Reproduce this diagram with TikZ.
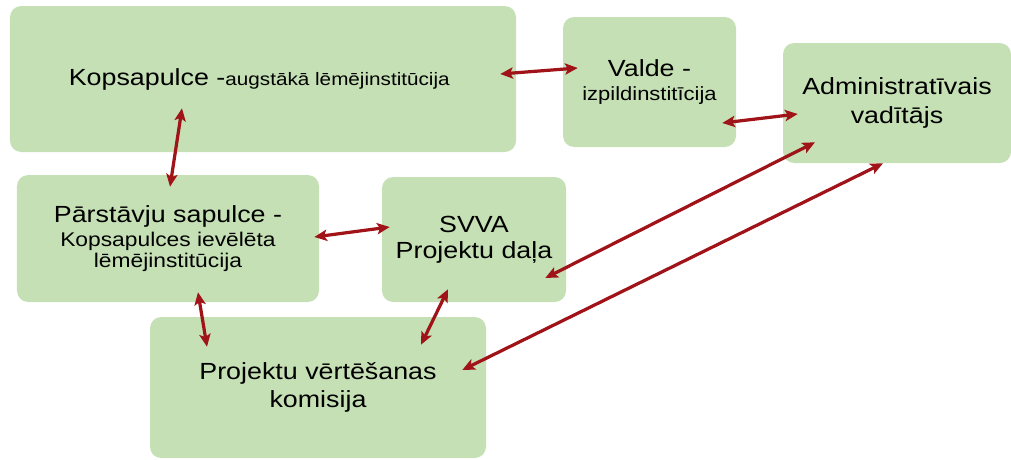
\documentclass[tikz,border=0pt]{standalone}
\usepackage{fontspec}
\setmainfont{Liberation Sans}[FakeStretch=1.15]
\usepackage{tikz}
\usetikzlibrary{arrows.meta, calc}

\definecolor{boxgreen}{RGB}{197,224,180}
\definecolor{linkred}{RGB}{160,20,25}

\newcommand{\bigtxt}{\fontsize{16.6}{20}\selectfont}

\begin{document}
\begin{tikzpicture}[
    box/.style={fill=boxgreen, rounded corners=8pt, align=center, inner sep=0pt, text=black, font=\bigtxt},
    link/.style={{Stealth[length=9pt,width=8pt,inset=2pt]}-{Stealth[length=9pt,width=8pt,inset=2pt]}, line width=2.3pt, draw=linkred}
]
\useasboundingbox (0,0) rectangle (25.275,11.475);

\node[box, minimum width=12.65cm, minimum height=3.65cm] (kop) at (6.575,9.5) {
    Kopsapulce -{\fontsize{12.8}{15}\selectfont augstākā lēmējinstitūcija}
};
\node[box, minimum width=4.325cm, minimum height=3.25cm] (valde) at (16.2375,9.425) {
    Valde -\\[-3pt]
    {\fontsize{13.6}{15}\selectfont izpildinstitīcija}
};
\node[box, minimum width=5.7cm, minimum height=3.0cm] (admin) at (22.425,8.9) {
    Administratīvais\\
    vadītājs
};
\node[box, minimum width=7.55cm, minimum height=3.175cm] (parst) at (4.2,5.5125) {
    Pārstāvju sapulce -\\[-3pt]
    {\fontsize{14.1}{17}\selectfont Kopsapulces ievēlēta}\\[-5pt]
    {\fontsize{14.1}{17}\selectfont lēmējinstitūcija}
};
\node[box, minimum width=4.6cm, minimum height=3.125cm] (svva) at (11.85,5.4875) {
    SVVA\\[-1.5pt]
    Projektu daļa
};
\node[box, minimum width=8.4cm, minimum height=3.525cm] (proj) at (7.95,1.7875) {
    Projektu vērtēšanas\\
    komisija
};

\draw[link] ($(kop.east)+(-0.4,0.125)$) -- ($(valde.west)+(0.375,0.35)$);
\draw[link] ($(valde.east)+(-0.35,-1.025)$) -- ($(admin.west)+(0.375,-0.275)$);
\draw[link] ($(kop.south)+(-2.025,1.1)$) -- ($(parst.north)+(0.05,-0.3)$);
\draw[link] ($(parst.east)+(-0.125,0.0375)$) -- ($(svva.west)+(0.2,0.3125)$);
\draw[link] ($(svva.east)+(-0.525,-0.9625)$) -- ($(admin.south)+(-2.05,0.525)$);
\draw[link] ($(proj.east)+(-0.6,0.4375)$) -- ($(admin.south)+(-0.35,0)$);
\draw[link] ($(parst.south)+(0.75,0.25)$) -- ($(proj.north)+(-2.775,-0.75)$);
\draw[link] ($(svva.south)+(-0.65,0.325)$) -- ($(proj.north)+(2.575,-0.7)$);

\end{tikzpicture}
\end{document}
